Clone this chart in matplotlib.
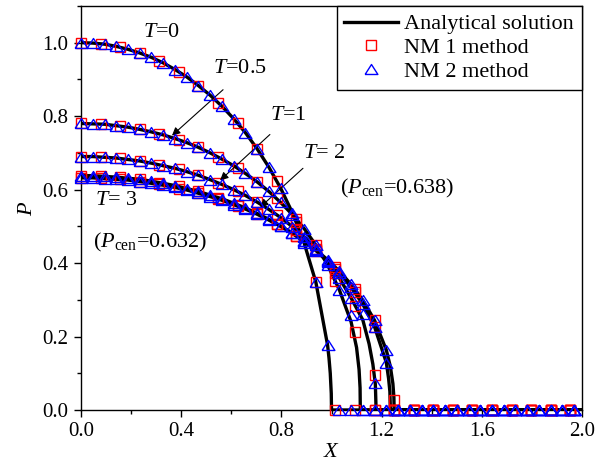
import matplotlib
matplotlib.use("Agg")
import matplotlib.pyplot as plt
from matplotlib.ticker import MultipleLocator, FormatStrFormatter

plt.rcParams["font.family"] = ["Liberation Serif", "DejaVu Serif"]
plt.rcParams["mathtext.fontset"] = "custom"
plt.rcParams["mathtext.rm"] = "Liberation Serif"
plt.rcParams["mathtext.it"] = "Liberation Serif:italic"

# X grids of the two numerical methods
x_nm1 = [0.0, 0.0781, 0.1563, 0.2344, 0.3125, 0.3906, 0.4688, 0.5469, 0.625,
         0.7031, 0.7813, 0.8594, 0.9375, 1.0156, 1.0938, 1.1719, 1.25, 1.3281,
         1.4063, 1.4844, 1.5625, 1.6406, 1.7188, 1.7969, 1.875, 1.9531]
x_nm2 = [0.0, 0.0469, 0.0938, 0.1406, 0.1875, 0.2344, 0.2813, 0.3281, 0.375,
         0.4219, 0.4688, 0.5156, 0.5625, 0.6094, 0.6563, 0.7031, 0.75, 0.7969,
         0.8438, 0.8906, 0.9375, 0.9844, 1.0313, 1.0781, 1.125, 1.1719, 1.2188,
         1.2656, 1.3125, 1.3594, 1.4063, 1.4531, 1.5, 1.5469, 1.5938, 1.6406,
         1.6875, 1.7344, 1.7813, 1.8281, 1.875, 1.9219, 1.9688]

# NM 1 method (squares)
nm1_t0 = [1.0, 0.997, 0.988, 0.972, 0.950, 0.921, 0.883, 0.837, 0.781, 0.711,
          0.624, 0.511, 0.348] + [0.0] * 13
nm1_t05 = [0.780, 0.778, 0.773, 0.764, 0.752, 0.735, 0.715, 0.689, 0.658, 0.621,
           0.576, 0.520, 0.449, 0.352, 0.211] + [0.0] * 11
nm1_t1 = [0.690, 0.689, 0.685, 0.678, 0.668, 0.655, 0.639, 0.619, 0.595, 0.566,
          0.532, 0.490, 0.439, 0.374, 0.283, 0.095] + [0.0] * 10
nm1_t2 = [0.638, 0.637, 0.633, 0.628, 0.619, 0.609, 0.595, 0.578, 0.559, 0.535,
          0.507, 0.474, 0.434, 0.384, 0.320, 0.226] + [0.0] * 10
nm1_t3 = [0.632, 0.631, 0.628, 0.622, 0.614, 0.603, 0.590, 0.574, 0.555, 0.533,
          0.506, 0.474, 0.436, 0.389, 0.329, 0.244, 0.027] + [0.0] * 9

# NM 2 method (triangles)
nm2_t0 = [1.0, 0.999, 0.996, 0.990, 0.982, 0.972, 0.960, 0.945, 0.927, 0.907,
          0.883, 0.857, 0.827, 0.793, 0.755, 0.711, 0.661, 0.604, 0.537, 0.455,
          0.348, 0.176] + [0.0] * 21
nm2_t05 = [0.780, 0.779, 0.778, 0.774, 0.770, 0.764, 0.757, 0.749, 0.739, 0.728,
           0.715, 0.700, 0.683, 0.665, 0.644, 0.621, 0.595, 0.565, 0.532, 0.494,
           0.449, 0.395, 0.327, 0.258] + [0.0] * 19
nm2_t1 = [0.690, 0.690, 0.688, 0.686, 0.682, 0.678, 0.672, 0.665, 0.658, 0.649,
          0.639, 0.627, 0.614, 0.600, 0.584, 0.566, 0.546, 0.524, 0.499, 0.471,
          0.439, 0.402, 0.359, 0.305, 0.260, 0.074] + [0.0] * 17
nm2_t2 = [0.638, 0.638, 0.636, 0.634, 0.631, 0.628, 0.623, 0.617, 0.611, 0.603,
          0.595, 0.585, 0.575, 0.563, 0.550, 0.535, 0.519, 0.501, 0.481, 0.459,
          0.434, 0.405, 0.373, 0.334, 0.288, 0.226, 0.129] + [0.0] * 16
nm2_t3 = [0.632, 0.632, 0.630, 0.628, 0.626, 0.622, 0.617, 0.612, 0.606, 0.599,
          0.590, 0.581, 0.571, 0.559, 0.547, 0.533, 0.517, 0.500, 0.481, 0.459,
          0.436, 0.409, 0.378, 0.342, 0.299, 0.244, 0.163] + [0.0] * 16

# analytical solution: interior follows the NM 2 grid, then the steep front
ana_x_t0 = x_nm2[:22] + [0.99, 0.995, 0.999, 1.0, 2.0]
ana_p_t0 = nm2_t0[:22] + [0.141, 0.100, 0.045, 0.0, 0.0]
ana_x_t05 = x_nm2[:23] + [1.0781, 1.10, 1.11, 1.114, 1.115, 2.0]
ana_p_t05 = nm2_t05[:23] + [0.240, 0.170, 0.110, 0.060, 0.0, 0.0]
ana_x_t1 = x_nm2[:24] + [1.125, 1.15, 1.165, 1.175, 1.178, 2.0]
ana_p_t1 = nm2_t1[:24] + [0.245, 0.180, 0.125, 0.070, 0.0, 0.0]
ana_x_t2 = x_nm2[:27] + [1.228, 1.233, 1.235, 2.0]
ana_p_t2 = nm2_t2[:27] + [0.085, 0.050, 0.0, 0.0]
ana_x_t3 = x_nm2[:27] + [1.235, 1.245, 1.249, 1.25, 2.0]
ana_p_t3 = nm2_t3[:27] + [0.118, 0.072, 0.035, 0.0, 0.0]

fig = plt.figure(figsize=(5.97, 4.70), dpi=100)
ax = fig.add_axes([0.1357, 0.1277, 0.8392, 0.8596])

tri = [(-1, -0.78), (1, -0.78), (0, 0.78), (-1, -0.78)]

ana_sets = [(ana_x_t0, ana_p_t0), (ana_x_t05, ana_p_t05), (ana_x_t1, ana_p_t1),
            (ana_x_t2, ana_p_t2), (ana_x_t3, ana_p_t3)]
for i, (xa, pa) in enumerate(ana_sets):
    ax.plot(xa, pa, color="black", lw=2.4, zorder=2,
            label="Analytical solution" if i == 0 else None)

for i, p in enumerate([nm1_t0, nm1_t05, nm1_t1, nm1_t2, nm1_t3]):
    ax.plot(x_nm1, p, ls="none", marker="s", ms=7.2, mfc="none", mec="red",
            mew=1.0, clip_on=False, zorder=3,
            label="NM 1 method" if i == 0 else None)

for i, p in enumerate([nm2_t0, nm2_t05, nm2_t1, nm2_t2, nm2_t3]):
    ax.plot(x_nm2, p, ls="none", marker=tri, ms=9.2, mfc="none", mec="blue",
            mew=1.0, clip_on=False, zorder=4,
            label="NM 2 method" if i == 0 else None)

ax.set_xlim(0, 2.0)
ax.set_ylim(0, 1.1)
ax.xaxis.set_major_locator(MultipleLocator(0.4))
ax.xaxis.set_minor_locator(MultipleLocator(0.2))
ax.yaxis.set_major_locator(MultipleLocator(0.2))
ax.yaxis.set_minor_locator(MultipleLocator(0.1))
ax.xaxis.set_major_formatter(FormatStrFormatter("%.1f"))
ax.yaxis.set_major_formatter(FormatStrFormatter("%.1f"))
ax.tick_params(which="major", direction="out", length=5, width=1, labelsize=15, pad=4)
ax.tick_params(which="minor", direction="out", length=3, width=1)
for s in ax.spines.values():
    s.set_linewidth(1)

ax.set_xlabel("$X$", fontsize=16, labelpad=1)
ax.set_ylabel("$P$", fontsize=16, labelpad=4)

fs = 16
ax.text(0.2475, 1.027, "$T$=0", fontsize=fs, va="center")
ax.text(0.527, 0.929, "$T$=0.5", fontsize=fs, va="center")
ax.text(0.754, 0.802, "$T$=1", fontsize=fs, va="center")
ax.text(0.886, 0.698, "$T$= 2", fontsize=fs, va="center")
ax.text(0.056, 0.571, "$T$= 3", fontsize=fs, va="center")
ax.text(0.048, 0.457, r"($P_{\rm cen}$=0.632)", fontsize=fs, va="center")
ax.text(1.034, 0.603, r"($P_{\rm cen}$=0.638)", fontsize=fs, va="center")

arrows = [((0.567, 0.872), (0.363, 0.747)),
          ((0.754, 0.750), (0.555, 0.625)),
          ((0.886, 0.658), (0.715, 0.552))]
for tail, head in arrows:
    ax.annotate("", xy=head, xytext=tail,
                arrowprops=dict(arrowstyle="-|>", color="black", lw=0.8,
                                mutation_scale=12, shrinkA=0, shrinkB=0))

leg = ax.legend(loc="upper right", bbox_to_anchor=(1, 1), borderaxespad=0,
                fontsize=16, numpoints=1, handlelength=2.4, handletextpad=0.3,
                labelspacing=0.15, borderpad=0.35, fancybox=False,
                edgecolor="black", framealpha=1)
leg.get_frame().set_linewidth(1)

fig.savefig("out.png", dpi=100)
